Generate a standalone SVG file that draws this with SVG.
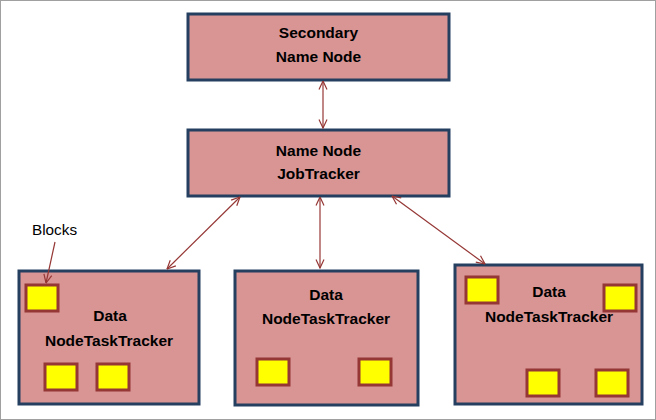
<svg xmlns="http://www.w3.org/2000/svg" width="656" height="420" viewBox="0 0 656 420">
<defs>
<marker id="ah" viewBox="0 0 10 10" refX="9.5" refY="5" markerWidth="10" markerHeight="10" markerUnits="userSpaceOnUse" orient="auto-start-reverse">
<path d="M1,1 L9.5,5 L1,9" fill="none" stroke="#953735" stroke-width="1.2"/>
</marker>
<style>
.node{fill:#D99594;stroke:#243F60;stroke-width:3}
.blk{fill:#FFFF00;stroke:#953735;stroke-width:3}
.t{font-family:"Liberation Sans",Arial,sans-serif;font-weight:bold;font-size:15.5px;text-anchor:middle;fill:#000}
.lbl{font-family:"Liberation Sans",Arial,sans-serif;font-size:15.3px;fill:#000}
.c{stroke:#953735;stroke-width:1.2;fill:none;marker-start:url(#ah);marker-end:url(#ah)}
</style>
</defs>
<rect x="0.5" y="0.5" width="655" height="419" fill="#fff" stroke="#A0A0A0" stroke-width="1"/>
<g id="secondary">
<rect class="node" x="188" y="14" width="261" height="66"/>
<text class="t" x="318.5" y="38">Secondary</text>
<text class="t" x="318.5" y="62">Name Node</text>
</g>
<g id="namenode">
<rect class="node" x="188" y="130" width="261" height="66"/>
<text class="t" x="318.5" y="156">Name Node</text>
<text class="t" x="318.5" y="179">JobTracker</text>
</g>
<g id="data1">
<rect class="node" x="19" y="271" width="180" height="133"/>
<rect class="blk" x="26" y="285" width="32" height="26"/>
<rect class="blk" x="45" y="364" width="32" height="26"/>
<rect class="blk" x="97" y="364" width="32" height="26"/>
<text class="t" x="110" y="321">Data</text>
<text class="t" x="109" y="346">NodeTaskTracker</text>
</g>
<g id="data2">
<rect class="node" x="235" y="271" width="183" height="134"/>
<rect class="blk" x="257" y="359" width="32" height="26"/>
<rect class="blk" x="359" y="359" width="32" height="26"/>
<text class="t" x="326" y="300">Data</text>
<text class="t" x="326" y="324">NodeTaskTracker</text>
</g>
<g id="data3">
<rect class="node" x="455" y="265" width="187" height="139"/>
<rect class="blk" x="466" y="277" width="32" height="26"/>
<rect class="blk" x="604" y="285" width="32" height="26"/>
<rect class="blk" x="527" y="370" width="32" height="26"/>
<rect class="blk" x="596" y="370" width="32" height="26"/>
<text class="t" x="549" y="297">Data</text>
<text class="t" x="549" y="322">NodeTaskTracker</text>
</g>
<g id="blocks-label">
<text class="lbl" x="32" y="235">Blocks</text>
</g>
<g id="connectors">
<line class="c" x1="323" y1="81" x2="323" y2="128"/>
<line class="c" x1="240" y1="197" x2="167" y2="269"/>
<line class="c" x1="320" y1="197" x2="320" y2="268"/>
<line class="c" x1="392" y1="196" x2="485" y2="264"/>
<line stroke="#953735" stroke-width="1.2" fill="none" marker-end="url(#ah)" x1="55" y1="242" x2="46" y2="283"/>
</g>
</svg>
